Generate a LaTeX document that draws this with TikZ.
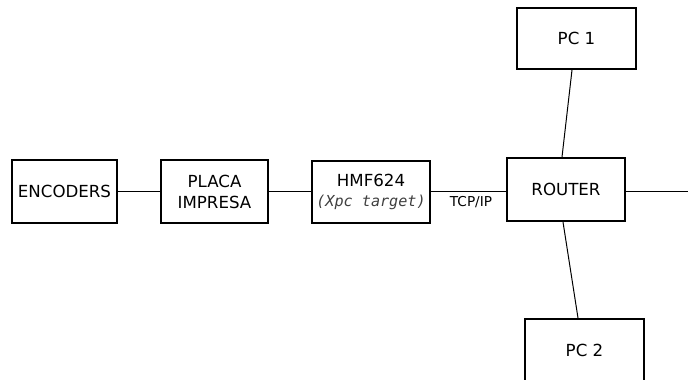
\documentclass[tikz,border=0pt]{standalone}
\usepackage{fontspec}
\setmainfont{DejaVu Sans}
\setmonofont{DejaVu Sans Mono}
\usetikzlibrary{positioning}
\newcommand{\boxfont}{\fontsize{16.7pt}{21pt}\selectfont}

\begin{document}
\begin{tikzpicture}[x=1bp,y=-1bp,
  blk/.style={draw,line width=2bp,align=center,inner sep=0pt,font=\boxfont},
  wire/.style={line width=1bp}]
  \useasboundingbox (0,0) rectangle (688,379);

  % Chain of blocks.
  \node[blk,minimum width=105bp,minimum height=63bp] (enc) at (64.5,191.5) {ENCODERS};
  \node[blk,minimum width=107bp,minimum height=63bp] (placa) at (214.5,191.5) {PLACA\\IMPRESA};
  \node[blk,minimum width=118bp,minimum height=62bp] (hmf) at (371,191.5)
    {HMF624\\[-1pt]{\ttfamily\itshape\fontsize{15.2pt}{18pt}\selectfont\color{black!75}(Xpc target)}};
  \node[blk,minimum width=118bp,minimum height=63bp] (router) at (566,189.5) {ROUTER};

  % Computers.
  \node[blk,minimum width=119bp,minimum height=61bp] (pc1) at (576.5,38.5) {PC 1};
  \node[blk,minimum width=119bp,minimum height=62bp] (pc2) at (584.5,350) {PC 2};

  % Links.
  \coordinate (out) at (688,191.5);
  \draw[wire] (enc.east) -- (placa.west);
  \draw[wire] (placa.east) -- (hmf.west);
  \draw[wire] (hmf.east) -- (hmf.east -| router.west);
  \draw[wire] (router.east |- out) -- (out);
  \draw[wire] ([xshift=-4.5bp]pc1.south) -- ([xshift=-4bp]router.north);
  \draw[wire] ([xshift=-3bp]router.south) -- ([xshift=-6.5bp]pc2.north);
  \node[font=\fontsize{13.7pt}{16pt}\selectfont] (tcp) at (471,202) {TCP/IP};
\end{tikzpicture}
\end{document}
